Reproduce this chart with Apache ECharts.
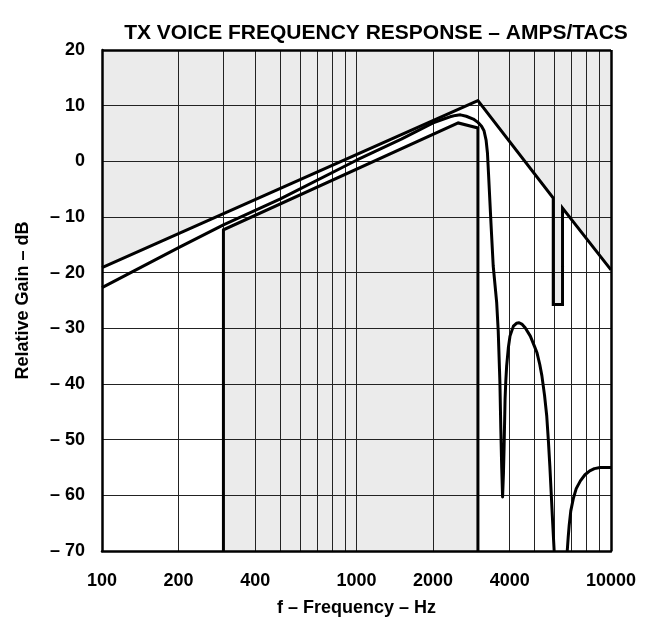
<!DOCTYPE html>
<html>
<head>
<meta charset="utf-8">
<script src="https://cdn.jsdelivr.net/npm/echarts@6/dist/echarts.min.js"></script>
<style>
  html, body { margin: 0; padding: 0; background: #fff; }
  #chart { width: 645px; height: 622px; }
</style>
</head>
<body>
<div id="chart"></div>
<script>
// axis ticks
const xLabelValues = [100, 200, 400, 1000, 2000, 4000, 10000]
const xGridValues = [200, 300, 400, 500, 600, 700, 800, 900, 1000, 2000, 3000, 4000, 5000, 6000, 7000, 8000, 9000]
const yGridValues = [-60, -50, -40, -30, -20, -10, 0, 10]

// upper limit mask [Hz, dB]
const upperMask = [[100, -19.1], [3000, 10.9], [5930, -6.6], [5930, -25.7], [6450, -25.7], [6450, -8.4], [10000, -19.5]]
// lower limit mask [Hz, dB]
const lowerMask = [[300, -70], [300, -12.3], [2510, 6.9], [3000, 6.0], [3000, -70]]

// measured response, passband + first stopband lobe
const response = [
  [100, -22.7], [200, -15.5], [300, -11.4], [500, -6.8], [1000, 0.2], [1500, 4.0],
  [2000, 6.9], [2200, 7.6], [2330, 8.0], [2450, 8.25], [2560, 8.35], [2700, 8.1],
  [2877, 7.6], [3000, 7.0], [3100, 6.3], [3170, 5.5], [3230, 3.8], [3270, 1.5],
  [3300, -2.0], [3375, -11.0], [3445, -18.8], [3555, -25.4], [3605, -30.5],
  [3660, -39.7], [3690, -48.0], [3720, -55.0], [3750, -60.3], [3780, -56.0],
  [3800, -51.7], [3835, -42.7], [3860, -39.5], [3890, -36.8], [3950, -33.5],
  [4010, -31.4], [4135, -29.6], [4250, -29.1], [4355, -29.0], [4480, -29.3],
  [4600, -29.9], [4820, -31.4], [5000, -33.2], [5120, -34.4], [5250, -36.5],
  [5350, -38.5], [5480, -42.0], [5590, -45.7], [5680, -50.5], [5750, -54.7],
  [5820, -59.5], [5880, -63.6], [5940, -67.5], [5980, -70]
]
// second stopband lobe
const responseTail = [
  [6730, -70], [6790, -67.5], [6850, -65.4], [6950, -62.8], [7110, -60.6], [7300, -58.8],
  [7580, -57.4], [7900, -56.3], [8250, -55.6], [8600, -55.2], [9060, -55.0], [10000, -55.0]
]

const font = 'Liberation Sans, Arial, sans-serif'
const lineStyle = { color: '#000', width: 3, join: 'miter' }
const curveStyle = { color: '#000', width: 3, join: 'round' }

const gridLines = []
xGridValues.forEach(v => gridLines.push({ xAxis: v }))
yGridValues.forEach(v => gridLines.push({ yAxis: v }))

const borderLines = [{ xAxis: 10000 }, { yAxis: 20 }]

const chart = echarts.init(document.getElementById('chart'), null, { renderer: 'canvas' })
chart.setOption({
  animation: false,
  backgroundColor: '#fff',
  title: {
    text: 'TX VOICE FREQUENCY RESPONSE – AMPS/TACS',
    left: 371,
    textAlign: 'center',
    top: 18,
    textStyle: { fontFamily: font, fontWeight: 'bold', fontSize: 21, color: '#000' }
  },
  grid: { left: 102, right: 34, top: 50, bottom: 70, show: false },
  xAxis: {
    type: 'log',
    logBase: 10,
    min: 100,
    max: 10000,
    name: 'f – Frequency – Hz',
    nameLocation: 'middle',
    nameGap: 48,
    nameTextStyle: { fontFamily: font, fontWeight: 'bold', fontSize: 18, color: '#000' },
    axisLine: { show: true, onZero: false, lineStyle: { color: '#000', width: 2.5 } },
    axisTick: { show: false },
    splitLine: { show: false },
    axisLabel: {
      customValues: xLabelValues,
      margin: 21,
      fontFamily: font, fontWeight: 'bold', fontSize: 18, color: '#000',
      formatter: v => String(Math.round(v))
    },
    z: 10
  },
  yAxis: {
    type: 'value',
    min: -70,
    max: 20,
    interval: 10,
    name: 'Relative Gain – dB',
    nameLocation: 'middle',
    nameGap: 70,
    nameTextStyle: { fontFamily: font, fontWeight: 'bold', fontSize: 18, color: '#000' },
    axisLine: { show: true, onZero: false, lineStyle: { color: '#000', width: 2.5 } },
    axisTick: { show: false },
    splitLine: { show: false },
    axisLabel: {
      margin: 17,
      fontFamily: font, fontWeight: 'bold', fontSize: 18, color: '#000',
      formatter: v => (v < 0 ? '– ' + Math.abs(v) : String(v))
    },
    z: 10
  },
  series: [
    {
      // grey region above upper mask
      type: 'line',
      data: upperMask,
      symbol: 'none',
      lineStyle: { width: 0 },
      areaStyle: { color: '#ebebeb', opacity: 1, origin: 'end' },
      z: 1,
      silent: true
    },
    {
      // grey region below lower mask
      type: 'line',
      data: lowerMask,
      symbol: 'none',
      lineStyle: { width: 0 },
      areaStyle: { color: '#ebebeb', opacity: 1, origin: 'start' },
      z: 1,
      silent: true
    },
    {
      // grid lines over the shading
      type: 'line',
      data: [],
      z: 2,
      silent: true,
      markLine: {
        silent: true,
        symbol: ['none', 'none'],
        label: { show: false },
        lineStyle: { color: '#222', width: 1, type: 'solid' },
        data: gridLines
      }
    },
    {
      type: 'line',
      data: [],
      z: 6,
      silent: true,
      markLine: {
        silent: true,
        symbol: ['none', 'none'],
        label: { show: false },
        lineStyle: { color: '#000', width: 2.5, type: 'solid' },
        data: borderLines
      }
    },
    { type: 'line', data: upperMask, symbol: 'none', lineStyle: lineStyle, z: 5 },
    { type: 'line', data: lowerMask, symbol: 'none', lineStyle: lineStyle, z: 5 },
    { type: 'line', data: response, symbol: 'none', lineStyle: curveStyle, z: 5 },
    { type: 'line', data: responseTail, symbol: 'none', lineStyle: curveStyle, z: 5 }
  ]
})
</script>
</body>
</html>
